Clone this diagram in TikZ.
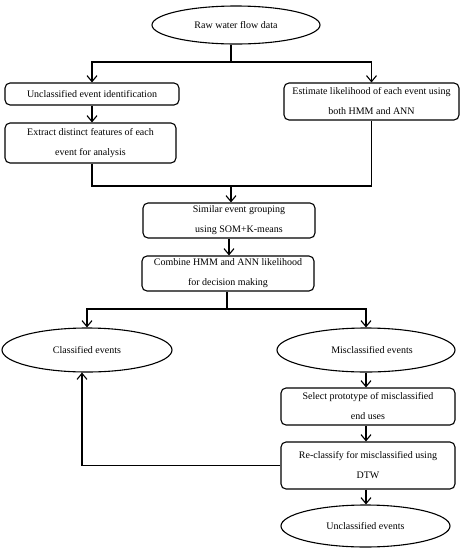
\documentclass[tikz,border=0pt]{standalone}
\usepackage{fontspec}
\setmainfont{Liberation Serif}
\usetikzlibrary{shapes.geometric,arrows.meta}
\begin{document}
\begin{tikzpicture}[x=1pt,y=-1pt,
  every node/.style={inner sep=0pt,font=\fontsize{10}{20}\selectfont,align=center},
  boxx/.style={draw,line width=1.1pt,rounded corners=5pt,rectangle},
  ell/.style={draw,line width=1.1pt,ellipse},
  ln/.style={line width=1.1pt},
  arr/.style={line width=1.1pt,-{Straight Barb[length=6pt,width=10pt]}}]
\useasboundingbox (0,0) rectangle (460,550);
\node[ell,minimum width=168pt,minimum height=38pt] (raw) at (236,25) {Raw water flow data};
\node[boxx,minimum width=174pt,minimum height=22pt] (unid) at (92,94) {Unclassified event identification};
\node[boxx,minimum width=171pt,minimum height=40pt] (extract) at (90.5,143) {Extract distinct features of each\\event for analysis};
\node[boxx,minimum width=175pt,minimum height=37pt] (est) at (371.5,101.5) {Estimate likelihood of each event using\\both HMM and ANN};
\node[boxx,minimum width=172pt,minimum height=35pt] (sim) at (229,220.5) {\hspace*{20pt}Similar event grouping\\\hspace*{20pt}using SOM+K-means};
\node[boxx,minimum width=172pt,minimum height=35pt] (comb) at (228,273.5) {Combine HMM and ANN likelihood\\for decision making};
\node[ell,minimum width=170pt,minimum height=44pt] (cls) at (87,350) {Classified events};
\node[ell,minimum width=178pt,minimum height=44pt] (mis) at (366,350) {\hspace*{12pt}Misclassified events};
\node[boxx,minimum width=174pt,minimum height=37pt] (sel) at (368,406.5) {Select prototype of misclassified\\end uses};
\node[boxx,minimum width=174pt,minimum height=47pt] (recl) at (368,465.5) {Re-classify for misclassified using\\DTW};
\node[ell,minimum width=169pt,minimum height=42pt] (uncl) at (365.5,526) {Unclassified events};
\coordinate (j1) at (231,62);
\coordinate (j2) at (231,186);
\coordinate (j3) at (227,309);
\draw[ln] (raw.south -| j1) -- (j1);
\draw[arr] (j1) -| (unid.north);
\draw[arr] (j1) -| (est.north);
\draw[arr] (unid.south) -- (unid.south |- extract.north);
\draw[ln] (unid.south |- extract.south) |- (j2) -| (est.south);
\draw[arr] (j2) -- (j2 |- sim.north);
\draw[arr] (sim.south) -- (sim.south |- comb.north);
\draw[ln] (comb.south -| j3) -- (j3);
\draw[arr] (j3) -| (cls.north);
\draw[arr] (j3) -| (mis.north);
\draw[arr] (mis.south) -- (mis.south |- sel.north);
\draw[arr] (mis.south |- sel.south) -- (mis.south |- recl.north);
\draw[arr] (mis.south |- recl.south) -- (mis.south |- uncl.north);
\draw[arr] (recl.west) -| ([xshift=-5pt]cls.south);
\end{tikzpicture}
\end{document}
